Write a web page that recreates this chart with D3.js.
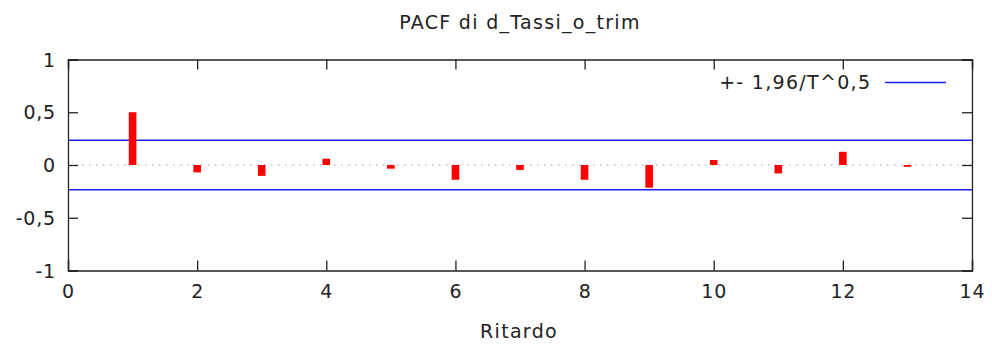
<!DOCTYPE html>
<html><head><meta charset="utf-8">
<script src="https://cdn.jsdelivr.net/npm/d3@7"></script>
<style>body{margin:0;background:#fff;} text{font-family:"DejaVu Sans",Verdana,sans-serif;fill:#222;}</style>
</head><body><svg id="c" width="992" height="344"></svg>
<script>
const lags = [1,2,3,4,5,6,7,8,9,10,11,12,13];
const pacf = [0.50,-0.07,-0.103,0.06,-0.035,-0.14,-0.047,-0.14,-0.215,0.047,-0.08,0.125,-0.017];
const bound = 0.234;
const xTicks = [0,2,4,6,8,10,12,14];
const yTicks = [-1,-0.5,0,0.5,1];
const title = "PACF di d_Tassi_o_trim";
const xLabel = "Ritardo";
const legendLabel = "+- 1,96/T^0,5";

const svg = d3.select("#c");
const L=68, R=972, T=59.5, B=270.5;
const x = d3.scaleLinear().domain([0,14]).range([L,R]);
const y = d3.scaleLinear().domain([-1,1]).range([B,T]);
const fmt = v => String(v).replace(".", ",");
const fs = 19, ls = "1.3px";

// zero line
svg.append("line").attr("x1",L).attr("x2",R).attr("y1",y(0)).attr("y2",y(0))
  .attr("stroke","#a0a0a0").attr("stroke-width",1.2).attr("stroke-dasharray","1.5,5.5");

// bounds
[bound,-bound].forEach(b=>{
  svg.append("line").attr("x1",L).attr("x2",R).attr("y1",y(b)).attr("y2",y(b))
    .attr("stroke","#2020ff").attr("stroke-width",1.4);
});

// bars
svg.selectAll("rect.bar").data(lags).enter().append("rect").attr("class","bar")
  .attr("x",d=>x(d)-3.8).attr("width",7.6)
  .attr("y",(d,i)=>y(Math.max(0,pacf[i])))
  .attr("height",(d,i)=>Math.abs(y(pacf[i])-y(0)))
  .attr("fill","#ff0000");

// axes (inward ticks, mirrored)
const tl = 10;
const gB = svg.append("g").attr("transform",`translate(0,${B})`)
  .call(d3.axisBottom(x).tickValues(xTicks).tickSize(-tl).tickPadding(14).tickFormat(d=>d));
const gT = svg.append("g").attr("transform",`translate(0,${T})`)
  .call(d3.axisTop(x).tickValues(xTicks).tickSize(-tl).tickFormat(""));
const gL = svg.append("g").attr("transform",`translate(${L},0)`)
  .call(d3.axisLeft(y).tickValues(yTicks).tickSize(-tl).tickPadding(12).tickFormat(fmt));
const gR = svg.append("g").attr("transform",`translate(${R},0)`)
  .call(d3.axisRight(y).tickValues(yTicks).tickSize(-tl).tickFormat(""));
[gB,gT,gL,gR].forEach(g=>{
  g.select(".domain").attr("stroke","#222").attr("stroke-width",1.3);
  g.selectAll(".tick line").attr("stroke","#222").attr("stroke-width",1.3);
  g.selectAll(".tick text").attr("font-family","DejaVu Sans").attr("font-size",fs)
    .attr("fill","#222").style("letter-spacing","0.8px");
});
gB.selectAll(".tick text").attr("dy","0.71em");
gL.selectAll(".tick text").attr("dy","0.35em");

// title & labels
svg.append("text").attr("x",520).attr("y",29).attr("text-anchor","middle")
  .attr("font-size",fs).style("letter-spacing",ls).text(title);
svg.append("text").attr("x",519).attr("y",338).attr("text-anchor","middle")
  .attr("font-size",fs).style("letter-spacing",ls).text(xLabel);

// legend
svg.append("text").attr("x",871.3).attr("y",89).attr("text-anchor","end")
  .attr("font-size",fs).style("letter-spacing",ls).text(legendLabel);
svg.append("line").attr("x1",885).attr("x2",946).attr("y1",82.5).attr("y2",82.5)
  .attr("stroke","#2020ff").attr("stroke-width",1.4);
</script></body></html>
